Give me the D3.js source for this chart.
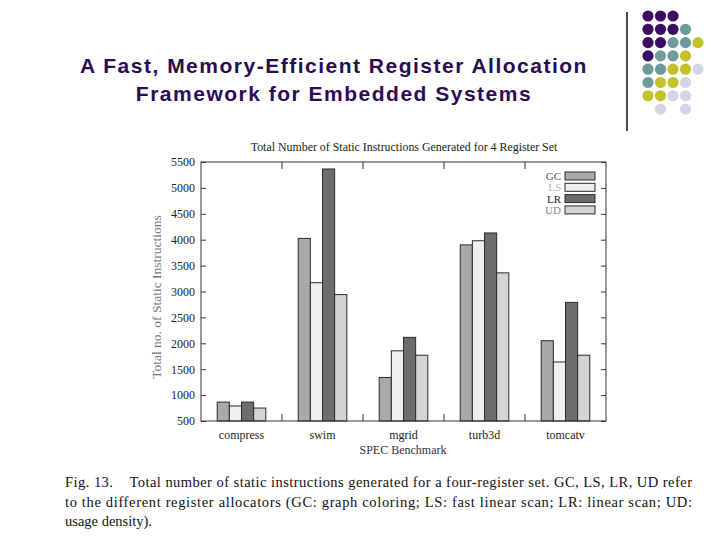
<!DOCTYPE html>
<html>
<head>
<meta charset="utf-8">
<script src="https://cdn.jsdelivr.net/npm/d3@7/dist/d3.min.js"></script>
<style>
  body { margin: 0; background: #fff; }
  svg { display: block; }
</style>
</head>
<body>
<div id="chart"></div>
<script>
// data
const benchmarks = ["compress", "swim", "mgrid", "turb3d", "tomcatv"];
const allocators = ["GC", "LS", "LR", "UD"];
const gcValues = [865, 4025, 1340, 3900, 2050];
const lsValues = [790, 3170, 1855, 3980, 1640];
const lrValues = [865, 5365, 2115, 4130, 2790];
const udValues = [750, 2940, 1770, 3360, 1770];
const yTicks = [500, 1000, 1500, 2000, 2500, 3000, 3500, 4000, 4500, 5000, 5500];

// decorative dot pattern (row by row, "" = empty)
const dotRows = [
  ["P", "P", "P", "", ""],
  ["P", "P", "P", "T", ""],
  ["P", "P", "T", "T", "Y"],
  ["P", "T", "T", "Y", ""],
  ["T", "T", "Y", "Y", "L"],
  ["T", "Y", "Y", "L", ""],
  ["Y", "Y", "L", "L", ""],
  ["", "L", "", "L", ""]
];
const dotColors = { P: "#3b0c5f", T: "#6f9a9b", Y: "#c4c22a", L: "#d3d4e6" };

const captionLines = [
  "Fig. 13.    Total number of static instructions generated for a four-register set. GC, LS, LR, UD refer",
  "to the different register allocators (GC: graph coloring; LS: fast linear scan; LR: linear scan; UD:",
  "usage density)."
];

const seriesValues = [gcValues, lsValues, lrValues, udValues];
const fills = ["#a9a9a9", "#efefef", "#6d6d6d", "#d4d4d4"];
const legendText = ["#555", "#bbb", "#222", "#888"];

const width = 720, height = 540;
const svg = d3.select("#chart").append("svg")
    .attr("width", width)
    .attr("height", height);

svg.append("rect").attr("width", width).attr("height", height).attr("fill", "#fff");

// slide title
svg.append("g")
    .selectAll("text")
    .data(["A Fast, Memory-Efficient Register Allocation", "Framework for Embedded Systems"])
    .enter().append("text")
    .attr("x", 334)
    .attr("y", (d, i) => 73 + i * 28)
    .attr("text-anchor", "middle")
    .attr("font-family", "Liberation Sans, Arial, sans-serif")
    .attr("font-size", 21)
    .attr("font-weight", "bold")
    .attr("letter-spacing", 1.5)
    .attr("fill", "#2b0b52")
    .text(d => d);

// corner decoration
svg.append("line")
    .attr("x1", 627).attr("x2", 627)
    .attr("y1", 12).attr("y2", 131)
    .attr("stroke", "#111").attr("stroke-width", 1.5);

const dots = [];
dotRows.forEach((row, j) => row.forEach((c, i) => { if (c) dots.push({ i, j, c }); }));
svg.append("g")
    .selectAll("circle")
    .data(dots)
    .enter().append("circle")
    .attr("cx", d => 648 + d.i * 12.5)
    .attr("cy", d => 16 + d.j * 13.3)
    .attr("r", 5.6)
    .attr("fill", d => dotColors[d.c]);

// chart
const plotLeft = 201, plotRight = 606, plotTop = 162, plotBottom = 421;

const x = d3.scaleBand()
    .domain(benchmarks)
    .range([plotLeft, plotRight])
    .paddingInner(0.4)
    .paddingOuter(0.2);

const xs = d3.scaleBand()
    .domain(allocators)
    .range([0, x.bandwidth()]);

const y = d3.scaleLinear()
    .domain([500, 5500])
    .range([plotBottom, plotTop]);

const serif = "Liberation Serif, Times New Roman, serif";

svg.append("text")
    .attr("x", 404).attr("y", 151)
    .attr("text-anchor", "middle")
    .attr("font-family", serif)
    .attr("font-size", 11.9)
    .attr("fill", "#222")
    .text("Total Number of Static Instructions Generated for 4 Register Set");

// bars
const groups = svg.append("g")
    .selectAll("g")
    .data(benchmarks)
    .enter().append("g")
    .attr("transform", d => `translate(${x(d)},0)`);

groups.selectAll("rect")
    .data((b, bi) => allocators.map((a, ai) => ({ a, ai, v: seriesValues[ai][bi] })))
    .enter().append("rect")
    .attr("x", d => xs(d.a))
    .attr("y", d => y(d.v))
    .attr("width", xs.bandwidth())
    .attr("height", d => y(500) - y(d.v))
    .attr("fill", d => fills[d.ai])
    .attr("stroke", "#2a2a2a")
    .attr("stroke-width", 1);

// axes
const yAxisL = d3.axisLeft(y).tickValues(yTicks).tickSize(-5).tickPadding(6).tickFormat(d3.format("d"));
const yAxisR = d3.axisRight(y).tickValues(yTicks).tickSize(-5).tickFormat("");

const gyl = svg.append("g").attr("transform", `translate(${plotLeft},0)`).call(yAxisL);
const gyr = svg.append("g").attr("transform", `translate(${plotRight},0)`).call(yAxisR);

// tick marks between groups on bottom and top
const sepValues = benchmarks.slice(1).map(b => x(b) - x.step() * x.paddingInner() / 2);
const xAxisB = d3.axisBottom(x).tickSize(0).tickPadding(9);
const gxb = svg.append("g").attr("transform", `translate(0,${plotBottom})`).call(xAxisB);

const sepLines = svg.append("g");
sepValues.forEach(v => {
  sepLines.append("line").attr("x1", v).attr("x2", v).attr("y1", plotBottom).attr("y2", plotBottom - 7);
  sepLines.append("line").attr("x1", v).attr("x2", v).attr("y1", plotTop).attr("y2", plotTop + 7);
});
sepLines.selectAll("line").attr("stroke", "#333").attr("stroke-width", 1);

[gyl, gyr, gxb].forEach(g => {
  g.select(".domain").remove();
  g.selectAll("line").attr("stroke", "#333");
  g.selectAll("text")
      .attr("font-family", serif)
      .attr("font-size", 12)
      .attr("fill", "#222");
});

// frame
svg.append("rect")
    .attr("x", plotLeft).attr("y", plotTop)
    .attr("width", plotRight - plotLeft).attr("height", plotBottom - plotTop)
    .attr("fill", "none")
    .attr("stroke", "#333")
    .attr("stroke-width", 1);

// axis labels
svg.append("text")
    .attr("x", 403).attr("y", 454)
    .attr("text-anchor", "middle")
    .attr("font-family", serif)
    .attr("font-size", 12)
    .attr("fill", "#333")
    .text("SPEC Benchmark");

svg.append("text")
    .attr("transform", `translate(161,297) rotate(-90)`)
    .attr("text-anchor", "middle")
    .attr("font-family", serif)
    .attr("font-size", 13.5)
    .attr("fill", "#777")
    .text("Total no. of Static Instructions");

// legend
const legend = svg.append("g")
    .selectAll("g")
    .data(allocators)
    .enter().append("g")
    .attr("transform", (d, i) => `translate(565,${172 + i * 11.3})`);

legend.append("rect")
    .attr("width", 30).attr("height", 8)
    .attr("fill", (d, i) => fills[i])
    .attr("stroke", "#2a2a2a");

legend.append("text")
    .attr("x", -4).attr("y", 8)
    .attr("text-anchor", "end")
    .attr("font-family", serif)
    .attr("font-size", 11)
    .attr("fill", (d, i) => legendText[i])
    .text(d => d);

// caption
svg.append("g")
    .selectAll("text")
    .data(captionLines)
    .enter().append("text")
    .attr("x", 65)
    .attr("y", (d, i) => 487 + i * 19.5)
    .attr("font-family", serif)
    .attr("font-size", 14.5)
    .attr("fill", "#111")
    .attr("textLength", (d, i) => i < 2 ? 627 : null)
    .attr("lengthAdjust", "spacing")
    .style("white-space", "pre")
    .text(d => d);
</script>
</body>
</html>
